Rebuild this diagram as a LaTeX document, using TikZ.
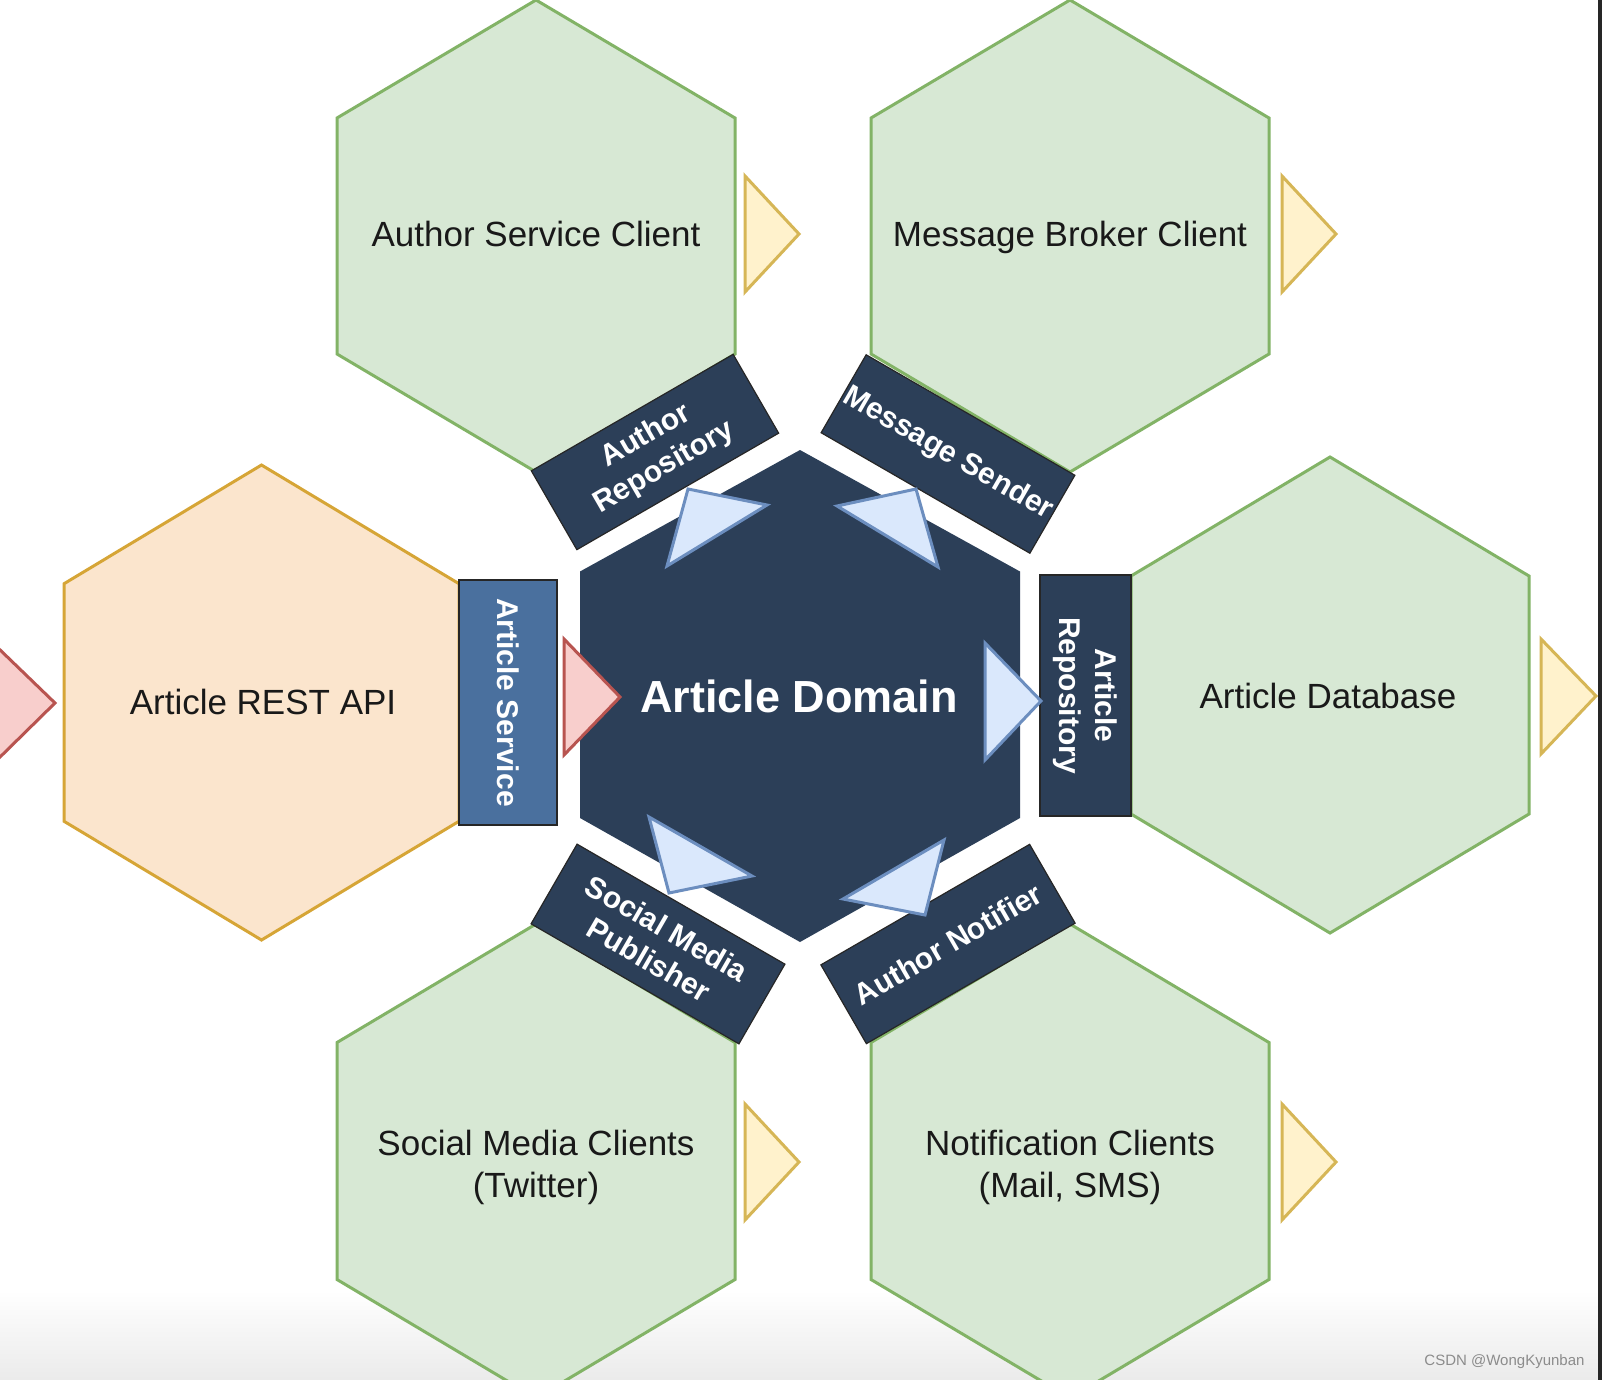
\documentclass[tikz,border=0pt]{standalone}
\usepackage{fontspec}
\setmainfont{Liberation Sans}
\definecolor{gfill}{HTML}{D7E8D4}
\definecolor{gline}{HTML}{82B366}
\definecolor{ofill}{HTML}{FBE5CD}
\definecolor{oline}{HTML}{D6A536}
\definecolor{yfill}{HTML}{FFF2CC}
\definecolor{yline}{HTML}{D6B656}
\definecolor{pfill}{HTML}{F8CECC}
\definecolor{pline}{HTML}{B85450}
\definecolor{bfill}{HTML}{DAE8FC}
\definecolor{bline}{HTML}{6C8EBF}
\definecolor{navy}{HTML}{2C3F58}
\definecolor{steel}{HTML}{4A709E}
\newcommand\hexagon[5]{\path[#5] ({#1},{#2-#4}) -- ({#1+#3},{#2-#4/2}) -- ({#1+#3},{#2+#4/2}) -- ({#1},{#2+#4}) -- ({#1-#3},{#2+#4/2}) -- ({#1-#3},{#2-#4/2}) -- cycle;}
\tikzset{
  greenhex/.style={fill=gfill, draw=gline, line width=3pt, line join=miter},
  orangehex/.style={fill=ofill, draw=oline, line width=3pt, line join=miter},
  corehex/.style={fill=navy},
  hexlabel/.style={font=\fontsize{35}{42}\selectfont, text=black!90, align=center},
  navybox/.style={fill=navy, draw=black!85, line width=1.2pt, text=white,
    font=\bfseries\fontsize{30}{36}\selectfont, align=center, inner sep=0pt},
  ytri/.style={fill=yfill, draw=yline, line width=3pt, line join=miter},
  ptri/.style={fill=pfill, draw=pline, line width=3pt, line join=miter},
  btri/.style={fill=bfill, draw=bline, line width=3pt, line join=miter},
}
\begin{document}
\begin{tikzpicture}[x=1pt,y=-1pt]
\useasboundingbox (0,0) rectangle (1602,1380);
\fill[white] (0,0) rectangle (1602,1380);
\shade[top color=white, bottom color=black!8] (0,1290) rectangle (1602,1380);
% outer hexagons
\hexagon{536}{236}{199}{236}{greenhex}
\hexagon{1070}{236}{199}{236}{greenhex}
\hexagon{261.5}{702.5}{197.5}{237.5}{orangehex}
\hexagon{1330}{695}{199}{238}{greenhex}
\hexagon{536}{1161}{199}{237}{greenhex}
\hexagon{1070}{1161}{199}{237}{greenhex}
% core hexagon
\path[corehex] (800,450) -- (1020,571.5) -- (1020,818) -- (800,942) -- (580,818) -- (580,571.5) -- cycle;
% labels
\node[hexlabel, anchor=base] (asc) at (536,246.5) {Author Service Client};
\node[hexlabel, anchor=base] (mbc) at (1070,246.5) {Message Broker Client};
\node[hexlabel] (api) at (263,702) {Article REST API};
\node[hexlabel] (adb) at (1328,696) {Article Database};
\node[hexlabel] (smc) at (536,1167) {Social Media Clients\\(Twitter)};
\node[hexlabel] (ntc) at (1070,1167) {Notification Clients\\(Mail, SMS)};
\node[font=\bfseries\fontsize{45}{54}\selectfont, text=white] (dom) at (799,696) {Article Domain};
% ports
\node[navybox, minimum width=233pt, minimum height=91pt, rotate=30] (arepo) at (655,452) {Author\\Repository};
\node[navybox, minimum width=241pt, minimum height=90pt, rotate=-30] (msend) at (948,454) {Message Sender};
\node[navybox, minimum width=240pt, minimum height=92pt, rotate=-30] (smpub) at (658,944) {Social Media\\Publisher};
\node[navybox, minimum width=241pt, minimum height=91pt, rotate=30] (anot) at (948,944) {Author Notifier};
\node[navybox, fill=steel, minimum width=245pt, minimum height=98pt, rotate=-90] (asvc) at (508,702.5) {Article Service};
\node[navybox, minimum width=241pt, minimum height=91pt, rotate=-90] (arepo2) at (1085.5,695.5) {Article\\Repository};
% yellow triangles
\path[ytri] (745,176) -- (799,234) -- (745,292) -- cycle;
\path[ytri] (1282,176) -- (1336,234) -- (1282,292) -- cycle;
\path[ytri] (1541,639) -- (1596,696) -- (1541,754) -- cycle;
\path[ytri] (745,1104) -- (799,1162) -- (745,1220) -- cycle;
\path[ytri] (1282,1104) -- (1336,1162) -- (1282,1220) -- cycle;
% pink triangles
\path[ptri] (-4,646) -- (55,703) -- (-4,761) -- cycle;
\path[ptri] (564,639) -- (620,697) -- (564,755) -- cycle;
% blue triangles
\path[btri] (985,643) -- (1041,701) -- (985,760) -- cycle;
\path[btri] (667,566) -- (688,489) -- (767,505) -- cycle;
\path[btri] (837,506) -- (916,489) -- (938,567) -- cycle;
\path[btri] (649,817) -- (752,876) -- (669,893) -- cycle;
\path[btri] (944,840) -- (843,899) -- (925,915) -- cycle;
% watermark and frame edge
\node[font=\fontsize{15}{18}\selectfont, text=black!45, anchor=east] (wm) at (1588,1362) {CSDN @WongKyunban};
\fill[black!85] (1598,0) rectangle (1602,1380);
\end{tikzpicture}
\end{document}
